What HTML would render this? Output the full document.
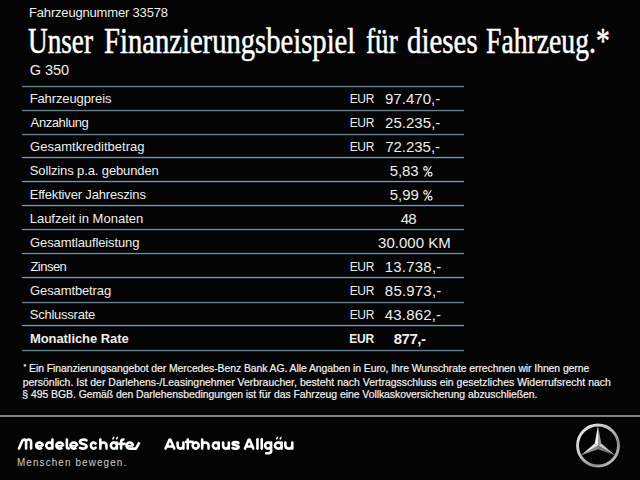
<!DOCTYPE html>
<html><head><meta charset="utf-8"><style>
html,body{margin:0;padding:0;background:#040404;width:640px;height:480px;overflow:hidden}
.t{position:absolute;white-space:nowrap;line-height:normal}
.r{position:absolute}
</style></head><body>
<div class="t" style="left:29.06px;top:5.04px;font-family:'Liberation Sans', sans-serif;font-size:13px;color:#eeeeee;font-weight:normal;letter-spacing:-0.181px;">Fahrzeugnummer 33578</div>
<div class="t" style="left:28.47px;top:21.81px;font-family:'Liberation Serif', serif;font-size:35px;color:#ffffff;font-weight:normal;letter-spacing:0.000px;transform:scale(0.7771,1.0);transform-origin:0 0;-webkit-text-stroke:0.5px #ffffff;">Unser</div>
<div class="t" style="left:104.43px;top:21.81px;font-family:'Liberation Serif', serif;font-size:35px;color:#ffffff;font-weight:normal;letter-spacing:0.000px;transform:scale(0.8181,1.0);transform-origin:0 0;-webkit-text-stroke:0.5px #ffffff;">Finanzierungsbeispiel</div>
<div class="t" style="left:365.71px;top:21.81px;font-family:'Liberation Serif', serif;font-size:35px;color:#ffffff;font-weight:normal;letter-spacing:0.000px;transform:scale(0.7768,1.0);transform-origin:0 0;-webkit-text-stroke:0.5px #ffffff;">für</div>
<div class="t" style="left:407.18px;top:21.81px;font-family:'Liberation Serif', serif;font-size:35px;color:#ffffff;font-weight:normal;letter-spacing:0.000px;transform:scale(0.8258,1.0);transform-origin:0 0;-webkit-text-stroke:0.5px #ffffff;">dieses</div>
<div class="t" style="left:486.14px;top:21.81px;font-family:'Liberation Serif', serif;font-size:35px;color:#ffffff;font-weight:normal;letter-spacing:0.000px;transform:scale(0.7907,1.0);transform-origin:0 0;-webkit-text-stroke:0.5px #ffffff;">Fahrzeug.*</div>
<div class="t" style="left:29.83px;top:61.68px;font-family:'Liberation Sans', sans-serif;font-size:14.5px;color:#eeeeee;font-weight:normal;letter-spacing:-0.035px;">G 350</div>
<div class="r" style="left:22px;top:86px;width:442px;height:1px;background:#687c8c;box-shadow:0 1px 0 #16202a,0 -1px 0 #11161b"></div>
<div class="r" style="left:22px;top:110px;width:442px;height:1px;background:#687c8c;box-shadow:0 1px 0 #16202a,0 -1px 0 #11161b"></div>
<div class="r" style="left:22px;top:134px;width:442px;height:1px;background:#687c8c;box-shadow:0 1px 0 #16202a,0 -1px 0 #11161b"></div>
<div class="r" style="left:22px;top:157px;width:442px;height:1px;background:#8c949b;box-shadow:0 1px 0 #16202a,0 -1px 0 #11161b"></div>
<div class="r" style="left:22px;top:181px;width:442px;height:1px;background:#8c949b;box-shadow:0 1px 0 #16202a,0 -1px 0 #11161b"></div>
<div class="r" style="left:22px;top:205px;width:442px;height:1px;background:#8c949b;box-shadow:0 1px 0 #16202a,0 -1px 0 #11161b"></div>
<div class="r" style="left:22px;top:229px;width:442px;height:1px;background:#7a8794;box-shadow:0 1px 0 #16202a,0 -1px 0 #11161b"></div>
<div class="r" style="left:22px;top:253px;width:442px;height:1px;background:#7a8794;box-shadow:0 1px 0 #16202a,0 -1px 0 #11161b"></div>
<div class="r" style="left:22px;top:277px;width:442px;height:1px;background:#8c949b;box-shadow:0 1px 0 #16202a,0 -1px 0 #11161b"></div>
<div class="r" style="left:22px;top:302px;width:442px;height:1px;background:#687c8c;box-shadow:0 1px 0 #16202a,0 -1px 0 #11161b"></div>
<div class="r" style="left:22px;top:325px;width:442px;height:1px;background:#8c949b;box-shadow:0 1px 0 #16202a,0 -1px 0 #11161b"></div>
<div class="r" style="left:22px;top:350px;width:442px;height:1px;background:#687c8c;box-shadow:0 1px 0 #16202a,0 -1px 0 #11161b"></div>
<div class="t" style="left:29.67px;top:91.23px;font-family:'Liberation Sans', sans-serif;font-size:13px;color:#eeeeee;font-weight:normal;letter-spacing:-0.110px;">Fahrzeugpreis</div>
<div class="t" style="left:349.69px;top:92.14px;font-family:'Liberation Sans', sans-serif;font-size:12px;color:#eeeeee;font-weight:normal;letter-spacing:-0.325px;">EUR</div>
<div class="t" style="left:384.94px;top:90.02px;font-family:'Liberation Sans', sans-serif;font-size:15px;color:#eeeeee;font-weight:normal;letter-spacing:0.051px;">97.470,-</div>
<div class="t" style="left:30.62px;top:115.23px;font-family:'Liberation Sans', sans-serif;font-size:13px;color:#eeeeee;font-weight:normal;letter-spacing:-0.404px;">Anzahlung</div>
<div class="t" style="left:349.69px;top:116.14px;font-family:'Liberation Sans', sans-serif;font-size:12px;color:#eeeeee;font-weight:normal;letter-spacing:-0.325px;">EUR</div>
<div class="t" style="left:385.00px;top:114.02px;font-family:'Liberation Sans', sans-serif;font-size:15px;color:#eeeeee;font-weight:normal;letter-spacing:0.043px;">25.235,-</div>
<div class="t" style="left:30.07px;top:139.24px;font-family:'Liberation Sans', sans-serif;font-size:13px;color:#eeeeee;font-weight:normal;letter-spacing:0.019px;">Gesamtkreditbetrag</div>
<div class="t" style="left:349.69px;top:140.14px;font-family:'Liberation Sans', sans-serif;font-size:12px;color:#eeeeee;font-weight:normal;letter-spacing:-0.325px;">EUR</div>
<div class="t" style="left:385.26px;top:138.03px;font-family:'Liberation Sans', sans-serif;font-size:15px;color:#eeeeee;font-weight:normal;letter-spacing:-0.040px;">72.235,-</div>
<div class="t" style="left:29.78px;top:163.24px;font-family:'Liberation Sans', sans-serif;font-size:13px;color:#eeeeee;font-weight:normal;letter-spacing:-0.121px;">Sollzins p.a. gebunden</div>
<div class="t" style="left:389.63px;top:162.03px;font-family:'Liberation Sans', sans-serif;font-size:15px;color:#eeeeee;font-weight:normal;letter-spacing:-0.063px;">5,83</div>
<div class="t" style="left:29.67px;top:187.24px;font-family:'Liberation Sans', sans-serif;font-size:13px;color:#eeeeee;font-weight:normal;letter-spacing:-0.173px;">Effektiver Jahreszins</div>
<div class="t" style="left:389.63px;top:186.03px;font-family:'Liberation Sans', sans-serif;font-size:15px;color:#eeeeee;font-weight:normal;letter-spacing:-0.003px;">5,99</div>
<div class="t" style="left:29.67px;top:211.24px;font-family:'Liberation Sans', sans-serif;font-size:13px;color:#eeeeee;font-weight:normal;letter-spacing:0.007px;">Laufzeit in Monaten</div>
<div class="t" style="left:400.66px;top:210.03px;font-family:'Liberation Sans', sans-serif;font-size:15px;color:#eeeeee;font-weight:normal;letter-spacing:-0.680px;">48</div>
<div class="t" style="left:30.07px;top:235.24px;font-family:'Liberation Sans', sans-serif;font-size:13px;color:#eeeeee;font-weight:normal;letter-spacing:-0.112px;">Gesamtlaufleistung</div>
<div class="t" style="left:378.12px;top:234.03px;font-family:'Liberation Sans', sans-serif;font-size:15px;color:#eeeeee;font-weight:normal;letter-spacing:-0.001px;">30.000 KM</div>
<div class="t" style="left:30.47px;top:259.24px;font-family:'Liberation Sans', sans-serif;font-size:13px;color:#eeeeee;font-weight:normal;letter-spacing:-0.538px;">Zinsen</div>
<div class="t" style="left:349.69px;top:260.14px;font-family:'Liberation Sans', sans-serif;font-size:12px;color:#eeeeee;font-weight:normal;letter-spacing:-0.325px;">EUR</div>
<div class="t" style="left:384.77px;top:258.03px;font-family:'Liberation Sans', sans-serif;font-size:15px;color:#eeeeee;font-weight:normal;letter-spacing:0.206px;">13.738,-</div>
<div class="t" style="left:30.07px;top:283.24px;font-family:'Liberation Sans', sans-serif;font-size:13px;color:#eeeeee;font-weight:normal;letter-spacing:-0.114px;">Gesamtbetrag</div>
<div class="t" style="left:349.69px;top:284.14px;font-family:'Liberation Sans', sans-serif;font-size:12px;color:#eeeeee;font-weight:normal;letter-spacing:-0.325px;">EUR</div>
<div class="t" style="left:384.87px;top:282.03px;font-family:'Liberation Sans', sans-serif;font-size:15px;color:#eeeeee;font-weight:normal;letter-spacing:0.191px;">85.973,-</div>
<div class="t" style="left:29.78px;top:307.24px;font-family:'Liberation Sans', sans-serif;font-size:13px;color:#eeeeee;font-weight:normal;letter-spacing:-0.243px;">Schlussrate</div>
<div class="t" style="left:349.69px;top:308.14px;font-family:'Liberation Sans', sans-serif;font-size:12px;color:#eeeeee;font-weight:normal;letter-spacing:-0.325px;">EUR</div>
<div class="t" style="left:384.81px;top:306.03px;font-family:'Liberation Sans', sans-serif;font-size:15px;color:#eeeeee;font-weight:normal;letter-spacing:0.173px;">43.862,-</div>
<div class="t" style="left:29.98px;top:331.24px;font-family:'Liberation Sans', sans-serif;font-size:13px;color:#eeeeee;font-weight:bold;letter-spacing:-0.073px;">Monatliche Rate</div>
<div class="t" style="left:349.16px;top:332.14px;font-family:'Liberation Sans', sans-serif;font-size:12px;color:#eeeeee;font-weight:bold;letter-spacing:-0.110px;">EUR</div>
<div class="t" style="left:393.70px;top:330.03px;font-family:'Liberation Sans', sans-serif;font-size:15px;color:#eeeeee;font-weight:bold;letter-spacing:-0.452px;">877,-</div>
<svg style="position:absolute;left:422.6px;top:165.2px" width="11" height="13" viewBox="0 0 11 13" fill="none" stroke="#ececec"><circle cx="2.5" cy="3.4" r="1.75" stroke-width="1.25"/><circle cx="7.2" cy="9.3" r="1.85" stroke-width="1.25"/><path d="M1.6 11.6 L8.2 1.2" stroke-width="1.1"/></svg>
<svg style="position:absolute;left:422.6px;top:189.2px" width="11" height="13" viewBox="0 0 11 13" fill="none" stroke="#ececec"><circle cx="2.5" cy="3.4" r="1.75" stroke-width="1.25"/><circle cx="7.2" cy="9.3" r="1.85" stroke-width="1.25"/><path d="M1.6 11.6 L8.2 1.2" stroke-width="1.1"/></svg>
<div class="t" style="left:23.59px;top:363.09px;font-family:'Liberation Sans', sans-serif;font-size:10.4px;color:#f2f2f2;font-weight:normal;letter-spacing:-0.055px;-webkit-text-stroke:0.2px #f2f2f2;"><span style="font-size:7px;vertical-align:3px">*</span> Ein Finanzierungsangebot der Mercedes-Benz Bank AG. Alle Angaben in Euro, Ihre Wunschrate errechnen wir Ihnen gerne</div>
<div class="t" style="left:22.65px;top:377.09px;font-family:'Liberation Sans', sans-serif;font-size:10.4px;color:#f2f2f2;font-weight:normal;letter-spacing:0.040px;-webkit-text-stroke:0.2px #f2f2f2;">persönlich. Ist der Darlehens-/Leasingnehmer Verbraucher, besteht nach Vertragsschluss ein gesetzliches Widerrufsrecht nach</div>
<div class="t" style="left:22.35px;top:388.59px;font-family:'Liberation Sans', sans-serif;font-size:10.4px;color:#f2f2f2;font-weight:normal;letter-spacing:-0.029px;-webkit-text-stroke:0.2px #f2f2f2;">§ 495 BGB. Gemäß den Darlehensbedingungen ist für das Fahrzeug eine Vollkaskoversicherung abzuschließen.</div>
<div class="r" style="left:0px;top:415px;width:640px;height:2px;background:#808080;"></div>
<div class="t" style="left:16.81px;top:455.65px;font-family:'Liberation Sans', sans-serif;font-size:11px;color:#d0d0d0;font-weight:normal;letter-spacing:1.240px;transform:scale(0.9000,1.0);transform-origin:0 0;">Menschen bewegen.</div>
<svg style="position:absolute;left:0;top:0" width="640" height="480" viewBox="0 0 640 480">
<g fill="none" stroke="#ffffff" stroke-width="2.6" stroke-linecap="round" stroke-linejoin="round">
<path d="M19.0 448.5 L22.2 440.9 Q22.9 439.5 24.1 439.5 Q26.1 439.6 26.1 442.2 L26.1 448.5 M26.1 442.2 Q26.3 439.5 28.6 439.5 Q31.1 439.5 31.1 442.2 L31.1 448.5"/>
<path d="M52.40 445.55 L52.34 446.15 L52.17 446.72 L51.89 447.24 L51.51 447.71 L51.04 448.09 L50.52 448.37 L49.95 448.54 L49.35 448.60 L48.75 448.54 L48.18 448.37 L47.66 448.09 L47.19 447.71 L46.81 447.24 L46.53 446.72 L46.36 446.15 L46.30 445.55 L46.36 444.95 L46.53 444.38 L46.81 443.86 L47.19 443.39 L47.66 443.01 L48.18 442.73 L48.75 442.56 L49.35 442.50 L49.95 442.56 L50.52 442.73 L51.04 443.01 L51.51 443.39 L51.89 443.86 L52.17 444.38 L52.34 444.95 L52.40 445.55 M52.40 439.60 L52.40 448.60"/>
<path d="M66.85 439.6 L66.85 446.6 Q66.85 448.5 68.6 448.5"/>
<path d="M86.5 440.4 C85.4 439.4 80.0 439.1 80.0 441.9 C80.0 444.5 86.6 443.5 86.6 446.3 C86.6 449.1 81.2 449.0 79.9 447.8"/>
<path d="M95.61 443.51 L95.27 443.15 L94.88 442.86 L94.45 442.66 L94.00 442.53 L93.54 442.50 L93.08 442.56 L92.63 442.70 L92.22 442.93 L91.84 443.24 L91.51 443.61 L91.25 444.04 L91.06 444.52 L90.94 445.03 L90.90 445.55 L90.94 446.07 L91.06 446.58 L91.25 447.06 L91.51 447.49 L91.84 447.86 L92.22 448.17 L92.63 448.40 L93.08 448.54 L93.54 448.60 L94.00 448.57 L94.45 448.44 L94.88 448.24 L95.27 447.95 L95.61 447.59"/>
<path d="M100.35 439.60 L100.35 448.60 M100.35 445.75 Q100.35 442.50 103.42 442.50 Q106.50 442.50 106.50 445.75 L106.50 448.60"/>
<path d="M116.90 445.55 L116.84 446.15 L116.67 446.72 L116.39 447.24 L116.02 447.71 L115.57 448.09 L115.05 448.37 L114.49 448.54 L113.90 448.60 L113.31 448.54 L112.75 448.37 L112.23 448.09 L111.78 447.71 L111.41 447.24 L111.13 446.72 L110.96 446.15 L110.90 445.55 L110.96 444.95 L111.13 444.38 L111.41 443.86 L111.78 443.39 L112.23 443.01 L112.75 442.73 L113.31 442.56 L113.90 442.50 L114.49 442.56 L115.05 442.73 L115.57 443.01 L116.02 443.39 L116.39 443.86 L116.67 444.38 L116.84 444.95 L116.90 445.55 M116.90 442.50 L116.90 448.60"/>
<path d="M121.15 448.59999999999997 L121.15 441.7 Q121.15 439.5 123.4 439.5 M119.4 443.9 L124.6 443.9"/>
<path d="M165.60 448.60 L169.35 439.90 Q169.95 439.10 170.55 439.90 L174.30 448.60 M166.59 446.50 L173.31 446.50"/>
<path d="M177.60 442.50 L177.60 445.35 Q177.60 448.60 180.50 448.60 Q183.40 448.60 183.40 445.35 M183.40 442.50 L183.40 448.60"/>
<path d="M187.75 439.6 L187.75 448.59999999999997 M186.2 441.9 L192.5 441.9"/>
<path d="M198.70 445.55 L198.64 446.15 L198.47 446.72 L198.19 447.24 L197.82 447.71 L197.37 448.09 L196.85 448.37 L196.29 448.54 L195.70 448.60 L195.11 448.54 L194.55 448.37 L194.03 448.09 L193.58 447.71 L193.21 447.24 L192.93 446.72 L192.76 446.15 L192.70 445.55 L192.76 444.95 L192.93 444.38 L193.21 443.86 L193.58 443.39 L194.03 443.01 L194.55 442.73 L195.11 442.56 L195.70 442.50 L196.29 442.56 L196.85 442.73 L197.37 443.01 L197.82 443.39 L198.19 443.86 L198.47 444.38 L198.64 444.95 L198.70 445.55"/>
<path d="M202.15 439.60 L202.15 448.60 M202.15 445.75 Q202.15 442.50 205.32 442.50 Q208.50 442.50 208.50 445.75 L208.50 448.60"/>
<path d="M218.70 445.55 L218.64 446.15 L218.48 446.72 L218.21 447.24 L217.85 447.71 L217.41 448.09 L216.91 448.37 L216.37 448.54 L215.80 448.60 L215.23 448.54 L214.69 448.37 L214.19 448.09 L213.75 447.71 L213.39 447.24 L213.12 446.72 L212.96 446.15 L212.90 445.55 L212.96 444.95 L213.12 444.38 L213.39 443.86 L213.75 443.39 L214.19 443.01 L214.69 442.73 L215.23 442.56 L215.80 442.50 L216.37 442.56 L216.91 442.73 L217.41 443.01 L217.85 443.39 L218.21 443.86 L218.48 444.38 L218.64 444.95 L218.70 445.55 M218.70 442.50 L218.70 448.60"/>
<path d="M223.10 442.50 L223.10 445.35 Q223.10 448.60 225.95 448.60 Q228.80 448.60 228.80 445.35 M228.80 442.50 L228.80 448.60"/>
<path d="M238.4 442.9 C237.6 441.9 232.6 441.5 232.6 443.8 C232.6 445.7 238.6 444.9 238.6 446.9 C238.6 449.2 233.5 449.0 232.5 447.9"/>
<path d="M245.00 448.60 L248.55 439.90 Q249.15 439.10 249.75 439.90 L253.30 448.60 M245.95 446.50 L252.35 446.50"/>
<path d="M257.45 439.40 L257.45 448.60"/>
<path d="M261.75 439.40 L261.75 448.60"/>
<path d="M271.10 445.55 L271.04 446.15 L270.87 446.72 L270.59 447.24 L270.22 447.71 L269.77 448.09 L269.25 448.37 L268.69 448.54 L268.10 448.60 L267.51 448.54 L266.95 448.37 L266.43 448.09 L265.98 447.71 L265.61 447.24 L265.33 446.72 L265.16 446.15 L265.10 445.55 L265.16 444.95 L265.33 444.38 L265.61 443.86 L265.98 443.39 L266.43 443.01 L266.95 442.73 L267.51 442.56 L268.10 442.50 L268.69 442.56 L269.25 442.73 L269.77 443.01 L270.22 443.39 L270.59 443.86 L270.87 444.38 L271.04 444.95 L271.10 445.55 M271.10 442.50 L271.10 450.60 M271.3 450.6 Q271.3 453.2 268.4 453.2 L266.2 453.2"/>
<path d="M281.60 445.55 L281.54 446.15 L281.35 446.72 L281.04 447.24 L280.63 447.71 L280.13 448.09 L279.56 448.37 L278.94 448.54 L278.30 448.60 L277.66 448.54 L277.04 448.37 L276.47 448.09 L275.97 447.71 L275.56 447.24 L275.25 446.72 L275.06 446.15 L275.00 445.55 L275.06 444.95 L275.25 444.38 L275.56 443.86 L275.97 443.39 L276.47 443.01 L277.04 442.73 L277.66 442.56 L278.30 442.50 L278.94 442.56 L279.56 442.73 L280.13 443.01 L280.63 443.39 L281.04 443.86 L281.35 444.38 L281.54 444.95 L281.60 445.55 M281.60 442.50 L281.60 448.60"/>
<path d="M285.30 442.50 L285.30 445.35 Q285.30 448.60 288.80 448.60 Q292.30 448.60 292.30 445.35 M292.30 442.50 L292.30 448.60"/>
</g>
<g fill="none" stroke="#ffffff" stroke-width="2.6" stroke-linecap="butt" stroke-linejoin="round"><path d="M42.70 445.85 L42.70 445.55 L42.64 444.99 L42.48 444.45 L42.21 443.94 L41.85 443.49 L41.41 443.11 L40.90 442.82 L40.33 442.62 L39.74 442.51 L39.14 442.51 L38.55 442.62 L37.99 442.82 L37.49 443.12 L37.04 443.50 L36.68 443.95 L36.42 444.46 L36.25 445.00 L36.20 445.56 L36.26 446.12 L36.42 446.66 L36.69 447.17 L37.06 447.61 L37.50 447.99 L38.02 448.29 L38.58 448.49 L39.17 448.59 L39.77 448.59 L40.36 448.48 L40.92 448.27 L41.42 447.97 L41.87 447.59"/><path d="M63.00 445.85 L63.00 445.55 L62.94 444.99 L62.78 444.45 L62.50 443.94 L62.14 443.49 L61.69 443.11 L61.17 442.82 L60.60 442.62 L60.00 442.51 L59.39 442.51 L58.79 442.62 L58.22 442.82 L57.70 443.12 L57.26 443.50 L56.89 443.95 L56.62 444.46 L56.45 445.00 L56.40 445.56 L56.46 446.12 L56.63 446.66 L56.90 447.17 L57.27 447.61 L57.72 447.99 L58.24 448.29 L58.81 448.49 L59.41 448.59 L60.02 448.59 L60.62 448.48 L61.19 448.27 L61.70 447.97 L62.15 447.59"/><path d="M77.10 445.85 L77.10 445.55 L77.04 444.99 L76.88 444.45 L76.60 443.94 L76.24 443.49 L75.79 443.11 L75.27 442.82 L74.70 442.62 L74.10 442.51 L73.49 442.51 L72.89 442.62 L72.32 442.82 L71.80 443.12 L71.36 443.50 L70.99 443.95 L70.72 444.46 L70.55 445.00 L70.50 445.56 L70.56 446.12 L70.73 446.66 L71.00 447.17 L71.37 447.61 L71.82 447.99 L72.34 448.29 L72.91 448.49 L73.51 448.59 L74.12 448.59 L74.72 448.48 L75.29 448.27 L75.80 447.97 L76.25 447.59"/><path d="M132.90 445.85 L132.90 445.55 L132.86 445.07 L132.74 444.61 L132.55 444.17 L132.29 443.76 L131.97 443.39 L131.59 443.08 L131.17 442.83 L130.71 442.65 L130.22 442.54 L129.72 442.50 L129.23 442.54 L128.74 442.65 L128.28 442.83 L127.86 443.08 L127.48 443.39 L127.16 443.76 L126.90 444.17 L126.71 444.61 L126.59 445.07 L126.55 445.55 L126.59 446.03 L126.71 446.49 L126.90 446.93 L127.16 447.34 L127.48 447.71 L127.86 448.02 L128.28 448.27 L128.74 448.45 L129.23 448.56 L129.72 448.60 L136.0 448.59999999999997 L139.4 442.3"/></g>
<g fill="none" stroke="#ffffff" stroke-width="1.5" stroke-linecap="round"><path d="M112.90 438.90 L113.70 437.40 M116.60 438.90 L117.40 437.40"/><path d="M276.60 438.90 L277.40 437.50 M280.20 438.90 L281.00 437.50"/></g>
<g fill="none" stroke="#ffffff" stroke-width="1.9" stroke-linecap="butt"><path d="M36.20 445.85 L43.10 445.85"/><path d="M56.40 445.85 L63.40 445.85"/><path d="M70.50 445.85 L77.50 445.85"/><path d="M126.55 445.85 L133.30 445.85"/></g>
</svg>
<svg style="position:absolute;left:570px;top:417px" width="56" height="56" viewBox="0 0 56 56">
<defs><linearGradient id="g" x1="0" y1="0" x2="1" y2="1"><stop offset="0" stop-color="#f0f0f0"/><stop offset="0.45" stop-color="#bcbcbc"/><stop offset="0.7" stop-color="#909090"/><stop offset="1" stop-color="#dadada"/></linearGradient></defs>
<circle cx="28" cy="28.5" r="20.45" fill="none" stroke="url(#g)" stroke-width="2.9"/>
<path d="M28.00 8.80 L24.71 26.60 L28.00 28.50 Z" fill="#f6f6f6"/>
<path d="M28.00 8.80 L31.29 26.60 L28.00 28.50 Z" fill="#9c9c9c"/>
<path d="M45.32 38.50 L31.29 26.60 L28.00 28.50 Z" fill="#c8c8c8"/>
<path d="M45.32 38.50 L28.00 32.30 L28.00 28.50 Z" fill="#7a7a7a"/>
<path d="M10.68 38.50 L28.00 32.30 L28.00 28.50 Z" fill="#8a8a8a"/>
<path d="M10.68 38.50 L24.71 26.60 L28.00 28.50 Z" fill="#e8e8e8"/>
</svg>
</body></html>
